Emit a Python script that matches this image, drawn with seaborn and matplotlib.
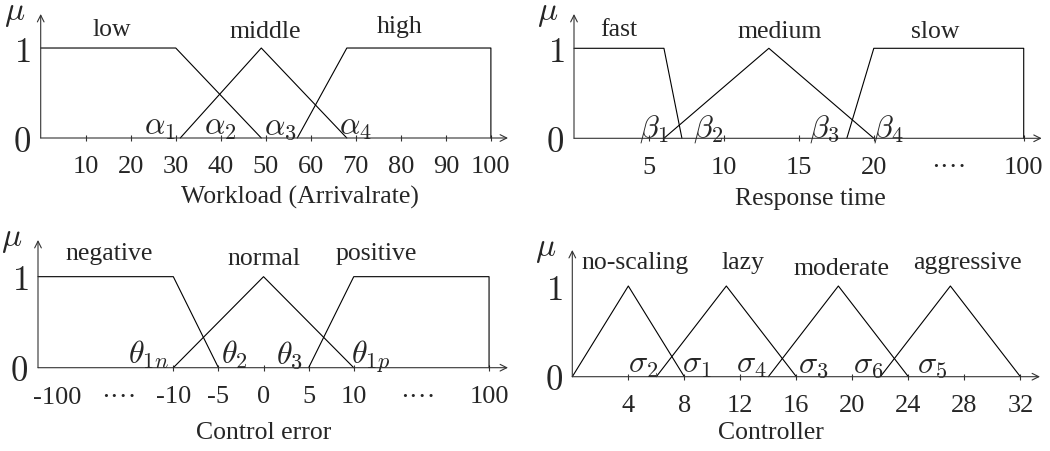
import matplotlib
matplotlib.use('Agg')
import matplotlib.pyplot as plt
import seaborn as sns

# ── data ──────────────────────────────────────
# workload (arrival rate) membership functions
wl_low_x = [0, 30, 49]
wl_low_y = [1, 1, 0]
wl_mid_x = [31, 49, 68]
wl_mid_y = [0, 1, 0]
wl_high_x = [57, 68, 100, 100]
wl_high_y = [0, 1, 1, 0]
wl_ticks = [10, 20, 30, 40, 50, 60, 70, 80, 90, 100]
wl_names = ['low', 'middle', 'high']
wl_greek = [r'$\alpha_1$', r'$\alpha_2$', r'$\alpha_3$', r'$\alpha_4$']

# response time (broken axis: position 30 stands for 100)
rt_fast_x = [0, 6, 7.2]
rt_fast_y = [1, 1, 0]
rt_med_x = [6, 13, 20]
rt_med_y = [0, 1, 0]
rt_slow_x = [18.2, 20, 30, 30]
rt_slow_y = [0, 1, 1, 0]
rt_ticks = [5, 10, 15, 20, 30]
rt_tick_labels = ['5', '10', '15', '20', '100']
rt_names = ['fast', 'medium', 'slow']
rt_greek = [r'$\beta_1$', r'$\beta_2$', r'$\beta_3$', r'$\beta_4$']

# control error (broken axis: -25 -> -100, 25 -> 100)
ce_neg_x = [-25, -10, -5]
ce_neg_y = [1, 1, 0]
ce_norm_x = [-10, 0, 10]
ce_norm_y = [0, 1, 0]
ce_pos_x = [5, 10, 25, 25]
ce_pos_y = [0, 1, 1, 0]
ce_ticks = [-10, -5, 0, 5, 10, 25]
ce_tick_labels = ['-10', '-5', '0', '5', '10', '100']
ce_names = ['negative', 'normal', 'positive']
ce_greek = [r'$\theta_{1n}$', r'$\theta_2$', r'$\theta_3$', r'$\theta_{1p}$']

# controller output
ct_start = [0, 6, 14, 22]
ct_peak = [4, 11, 19, 27]
ct_end = [8, 16, 24, 32]
ct_ticks = [4, 8, 12, 16, 20, 24, 28, 32]
ct_names = ['no-scaling', 'lazy', 'moderate', 'aggressive']
ct_greek = [r'$\sigma_2$', r'$\sigma_1$', r'$\sigma_4$', r'$\sigma_3$', r'$\sigma_6$', r'$\sigma_5$']

# ── style ─────────────────────────────────────
sns.set_theme(style='white')
plt.rcParams['font.family'] = ['Liberation Serif', 'DejaVu Serif']
plt.rcParams['mathtext.fontset'] = 'cm'

W, H = 1050, 452
fig = plt.figure(figsize=(W / 100, H / 100), dpi=100)

TXT = 18.5
TICK = 19
GRK = 23
LW = 0.8


def make_ax(left, right, ybot, ytop, xlim, ylim):
    ax = fig.add_axes([left / W, (H - ybot) / H, (right - left) / W, (ybot - ytop) / H])
    ax.set_xlim(*xlim)
    ax.set_ylim(*ylim)
    for s in ax.spines.values():
        s.set_visible(False)
    # axes with arrow heads
    ax.annotate('', xy=(xlim[1], 0), xytext=(xlim[0], 0),
                arrowprops=dict(arrowstyle='->', lw=LW, color='#333333', shrinkA=0, shrinkB=0))
    ax.annotate('', xy=(xlim[0], ylim[1]), xytext=(xlim[0], 0),
                arrowprops=dict(arrowstyle='->', lw=LW, color='#333333', shrinkA=0, shrinkB=0))
    ax.annotate(r'$\mu$', xy=(xlim[0], ylim[1]), xytext=(-19, 1), textcoords='offset points',
                ha='center', va='center', fontsize=24)
    ax.set_yticks([0, 1])
    ax.set_yticklabels(['$0$', '$1$'], fontsize=25)
    ax.tick_params(axis='y', length=0, pad=7)
    ax.tick_params(axis='x', direction='inout', length=5, width=LW, color='#333333',
                   labelsize=TICK, pad=10, bottom=True)
    ax.set_xlabel('')
    ax.set_ylabel('')
    return ax


def curve(ax, xs, ys):
    sns.lineplot(x=xs, y=ys, ax=ax, color='black', lw=LW, sort=False,
                 estimator=None, clip_on=False, legend=False)


def xlabel(ax, x, text, off):
    ax.annotate(text, xy=(x, 0), xytext=(0, -off), textcoords='offset points',
                ha='center', va='center', fontsize=TXT)


def names(ax, xs, ys, labels):
    for x, y, t in zip(xs, ys, labels):
        ax.text(x, y, t, ha='center', va='center', fontsize=TXT)


def greek(ax, xs, y, labels):
    for x, t in zip(xs, labels):
        ax.text(x, y, t, ha='center', va='baseline', fontsize=GRK)


def dots(ax, xs, labels):
    for x, t in zip(xs, labels):
        ax.annotate(t, xy=(x, 0), xytext=(0, -21), textcoords='offset points',
                    ha='center', va='center', fontsize=TICK)


# ── panel 1: workload ─────────────────────────
ax1 = make_ax(40.7, 508, 139, 15, (0, 103.8), (0, 1.378))
curve(ax1, wl_low_x, wl_low_y)
curve(ax1, wl_mid_x, wl_mid_y)
curve(ax1, wl_high_x, wl_high_y)
ax1.set_xticks(wl_ticks)
ax1.set_xticklabels([str(t) for t in wl_ticks])
names(ax1, [15.8, 49.8, 79.8], [1.21, 1.19, 1.25], wl_names)
greek(ax1, [26.5, 39.8, 53.2, 69.8], 0.045, wl_greek)
xlabel(ax1, 57.6, 'Workload (Arrivalrate)', 42)

# ── panel 2: response time ────────────────────
ax2 = make_ax(574, 1041.7, 139.3, 15, (0, 31.2), (0, 1.381))
curve(ax2, rt_fast_x, rt_fast_y)
curve(ax2, rt_med_x, rt_med_y)
curve(ax2, rt_slow_x, rt_slow_y)
ax2.set_xticks(rt_ticks)
ax2.set_xticklabels(rt_tick_labels)
dots(ax2, [25], ['····'])
names(ax2, [2.95, 13.7, 24.1], [1.21, 1.19, 1.19], rt_names)
greek(ax2, [5.3, 8.96, 16.7, 20.96], 0.03, rt_greek)
xlabel(ax2, 15.8, 'Response time', 43)

# ── panel 3: control error ────────────────────
ax3 = make_ax(38, 508, 368.7, 241, (-25, 27.1), (0, 1.403))
curve(ax3, ce_neg_x, ce_neg_y)
curve(ax3, ce_norm_x, ce_norm_y)
curve(ax3, ce_pos_x, ce_pos_y)
ax3.set_xticks(ce_ticks)
ax3.set_xticklabels(ce_tick_labels)
dots(ax3, [-22.9, -16.0, 17.1], ['-100', '····', '····'])
names(ax3, [-17.1, 0, 12.5], [1.26, 1.20, 1.26], ce_names)
greek(ax3, [-12.7, -3.2, 2.9, 11.9], 0.06, ce_greek)
xlabel(ax3, 0, 'Control error', 46)

# ── panel 4: controller ───────────────────────
ax4 = make_ax(572.3, 1040, 377.7, 251, (0, 33.4), (0, 1.397))
for s, p, e in zip(ct_start, ct_peak, ct_end):
    curve(ax4, [s, p, e], [0, 1, 0])
ax4.set_xticks(ct_ticks)
ax4.set_xticklabels([str(t) for t in ct_ticks])
names(ax4, [4.48, 12.2, 19.2, 28.2], [1.27, 1.26, 1.195, 1.27], ct_names)
greek(ax4, [5.07, 8.9, 12.8, 17.2, 21.1, 25.7], 0.055, ct_greek)
xlabel(ax4, 14.2, 'Controller', 40)

plt.savefig('out.png', dpi=100)
